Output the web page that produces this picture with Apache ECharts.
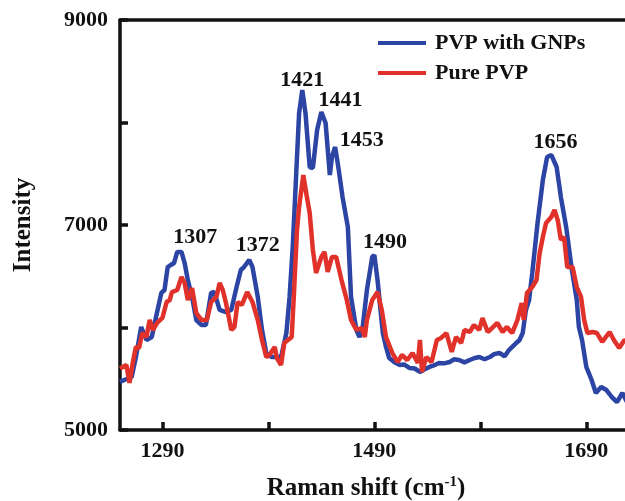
<!DOCTYPE html>
<html>
<head>
<meta charset="utf-8">
<script src="https://cdn.jsdelivr.net/npm/echarts@6/dist/echarts.min.js"></script>
<style>
  html, body { margin: 0; padding: 0; background: #fff; }
  #chart { width: 625px; height: 501px; }
</style>
</head>
<body>
<div id="chart"></div>
<script>
// Raman shift (cm-1) and intensity
var gnpX = [1250, 1254, 1261, 1265, 1270, 1275, 1280, 1284, 1289, 1292, 1295, 1298, 1301, 1304, 1308, 1311, 1314, 1318, 1322, 1327, 1331, 1336, 1339, 1344, 1350, 1355, 1360, 1364, 1367, 1372, 1375, 1380, 1384, 1388, 1393, 1397, 1402, 1407, 1410, 1413, 1416, 1419, 1422, 1425, 1429, 1432, 1436, 1440, 1444, 1448, 1450, 1453, 1456, 1460, 1465, 1468, 1473, 1476, 1479, 1483, 1488, 1490, 1493, 1498, 1501, 1504, 1509, 1514, 1518, 1523, 1528, 1533, 1537, 1542, 1546, 1551, 1556, 1561, 1565, 1570, 1575, 1580, 1584, 1589, 1594, 1599, 1603, 1608, 1613, 1617, 1624, 1627, 1630, 1633, 1636, 1639, 1644, 1649, 1653, 1657, 1662, 1666, 1671, 1676, 1681, 1683, 1686, 1690, 1695, 1699, 1704, 1709, 1714, 1719, 1724, 1730];
var gnpY = [5470, 5488, 5517, 5712, 6005, 5878, 5907, 6102, 6337, 6366, 6590, 6610, 6629, 6737, 6737, 6629, 6463, 6298, 6073, 6024, 6024, 6337, 6346, 6171, 6151, 6171, 6395, 6561, 6590, 6659, 6590, 6298, 5976, 5751, 5712, 5712, 5712, 5946, 6298, 6785, 7439, 8093, 8317, 8093, 7566, 7556, 7927, 8102, 7995, 7488, 7663, 7761, 7566, 7273, 6980, 6298, 5976, 5907, 6005, 6366, 6688, 6707, 6463, 5946, 5810, 5702, 5660, 5634, 5640, 5605, 5600, 5566, 5590, 5615, 5630, 5654, 5650, 5663, 5690, 5683, 5660, 5683, 5700, 5712, 5690, 5712, 5740, 5751, 5720, 5780, 5849, 5878, 5946, 6171, 6268, 6532, 7020, 7439, 7663, 7683, 7566, 7273, 6980, 6590, 6268, 6005, 5878, 5615, 5488, 5361, 5420, 5390, 5322, 5273, 5361, 5240];

var pureX = [1250, 1256, 1259, 1262, 1265, 1268, 1271, 1275, 1278, 1281, 1285, 1290, 1294, 1297, 1299, 1304, 1308, 1311, 1314, 1318, 1322, 1327, 1332, 1336, 1341, 1344, 1347, 1350, 1355, 1358, 1361, 1365, 1370, 1375, 1380, 1384, 1388, 1391, 1396, 1398, 1402, 1405, 1412, 1414, 1417, 1419, 1423, 1426, 1429, 1432, 1435, 1440, 1443, 1446, 1450, 1454, 1459, 1464, 1468, 1473, 1478, 1481, 1483, 1488, 1493, 1497, 1501, 1507, 1512, 1516, 1521, 1526, 1531, 1533, 1535, 1539, 1544, 1549, 1553, 1558, 1563, 1567, 1572, 1575, 1580, 1584, 1589, 1592, 1597, 1601, 1606, 1611, 1615, 1620, 1625, 1629, 1631, 1634, 1639, 1643, 1646, 1649, 1652, 1657, 1660, 1663, 1666, 1669, 1672, 1677, 1681, 1685, 1688, 1691, 1696, 1700, 1705, 1712, 1716, 1721, 1726, 1730];
var pureY = [5600, 5634, 5459, 5654, 5810, 5800, 5946, 5907, 6073, 5976, 6044, 6093, 6249, 6268, 6346, 6366, 6493, 6434, 6268, 6385, 6141, 6073, 6073, 6249, 6298, 6434, 6366, 6239, 5976, 6005, 6249, 6220, 6346, 6249, 6073, 5878, 5712, 5732, 5810, 5702, 5634, 5849, 5907, 6298, 6951, 7176, 7488, 7293, 7117, 6756, 6532, 6688, 6737, 6542, 6688, 6688, 6463, 6268, 6073, 5976, 5995, 5907, 6073, 6268, 6346, 6171, 5907, 5751, 5663, 5732, 5683, 5751, 5654, 5878, 5566, 5712, 5663, 5878, 5898, 5946, 5761, 5907, 5849, 5976, 5956, 6024, 5976, 6093, 5956, 5995, 6044, 5956, 6005, 5946, 6073, 6239, 6073, 6337, 6395, 6463, 6727, 6883, 7020, 7078, 7146, 7049, 6854, 6883, 6590, 6590, 6395, 6298, 6073, 5946, 5956, 5946, 5859, 5956, 5878, 5800, 5878, 5850];

// peak annotations: text and where it sits (data coordinates)
var peakNames = ['1307', '1372', '1421', '1441', '1453', '1490', '1656'];
var peakLabelX = [1321, 1380, 1422, 1458, 1478, 1500, 1661];
var peakLabelY = [6880, 6800, 8410, 8220, 7830, 6830, 7810];

var xTicks = [1290, 1390, 1490, 1590, 1690];
var xTickLabels = [1290, 1490, 1690];
var yTicks = [5000, 6000, 7000, 8000, 9000];
var yTickLabels = [5000, 7000, 9000];

var seriesNames = ['PVP with GNPs', 'Pure PVP'];
var blue = '#2C44A4';
var red = '#E0322A';
var font = '"Liberation Serif", "Times New Roman", serif';

function pairs(xs, ys) {
  return xs.map(function (x, i) { return [x, ys[i]]; });
}
function plain(v) { return String(v); }

var chart = echarts.init(document.getElementById('chart'));

var axisLine = { show: true, lineStyle: { color: '#111', width: 3.5 } };
var tickStyle = { color: '#111', width: 3.5 };

chart.setOption({
  animation: false,
  backgroundColor: '#fff',
  grid: { left: 120, top: 20, width: 514, height: 410, containLabel: false, outerBoundsMode: 'none' },
  legend: {
    data: seriesNames,
    orient: 'vertical',
    left: 378,
    top: 32,
    padding: 0,
    itemWidth: 48,
    itemHeight: 4,
    itemGap: 8,
    icon: 'rect',
    textStyle: { fontFamily: font, fontWeight: 'bold', fontSize: 22, color: '#111', lineHeight: 22, padding: [0, 0, 0, 4] }
  },
  xAxis: [{
    type: 'value',
    min: 1250,
    max: 1735,
    name: 'Raman shift (cm{sup|-1})',
    nameLocation: 'middle',
    nameGap: 45,
    nameTextStyle: {
      fontFamily: font, fontWeight: 'bold', fontSize: 25, color: '#111',
      padding: [0, 22, 0, 0],
      rich: { sup: { fontFamily: font, fontWeight: 'bold', fontSize: 15, color: '#111', verticalAlign: 'top', padding: [0, 0, 12, 0] } }
    },
    axisLine: axisLine,
    splitLine: { show: false },
    axisTick: { show: true, inside: true, length: 8, lineStyle: tickStyle, customValues: xTicks },
    axisLabel: { fontFamily: font, fontWeight: 'bold', fontSize: 22, color: '#111', margin: 10, formatter: plain, customValues: xTickLabels }
  }, {
    type: 'value',
    position: 'top',
    min: 1250,
    max: 1735,
    axisLine: axisLine,
    axisTick: { show: false },
    axisLabel: { show: false },
    splitLine: { show: false }
  }],
  yAxis: {
    type: 'value',
    min: 5000,
    max: 9000,
    interval: 1000,
    name: 'Intensity',
    nameLocation: 'middle',
    nameGap: 84,
    nameTextStyle: { fontFamily: font, fontWeight: 'bold', fontSize: 25, color: '#111' },
    axisLine: axisLine,
    splitLine: { show: false },
    axisTick: { show: true, inside: true, length: 8, lineStyle: tickStyle, customValues: yTicks },
    axisLabel: { fontFamily: font, fontWeight: 'bold', fontSize: 22, color: '#111', margin: 12, formatter: plain, customValues: yTickLabels }
  },
  series: [{
    name: seriesNames[0],
    type: 'line',
    data: pairs(gnpX, gnpY),
    showSymbol: false,
    color: blue,
    lineStyle: { color: blue, width: 4.5 },
    markPoint: {
      symbol: 'circle',
      symbolSize: 0,
      label: { show: true, position: 'inside', formatter: '{b}', fontFamily: font, fontWeight: 'bold', fontSize: 22, color: '#111' },
      data: peakNames.map(function (n, i) { return { name: n, coord: [peakLabelX[i], peakLabelY[i]] }; })
    }
  }, {
    name: seriesNames[1],
    type: 'line',
    data: pairs(pureX, pureY),
    showSymbol: false,
    color: red,
    lineStyle: { color: red, width: 4.5 }
  }]
});
</script>
</body>
</html>
